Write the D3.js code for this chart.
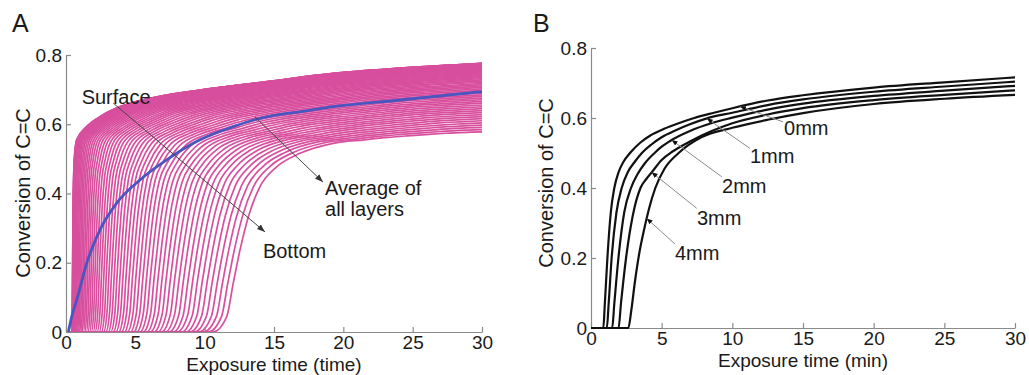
<!DOCTYPE html>
<html>
<head>
<meta charset="utf-8">
<script src="https://cdn.jsdelivr.net/npm/d3@7"></script>
<style>
  body { margin: 0; background: #fff; }
  svg text { font-family: "Liberation Sans", Arial, sans-serif; fill: #1a1a1a; }
  .axis path, .axis line { stroke: #8a8a8a; stroke-width: 1.2; }
</style>
</head>
<body>
<svg id="chart" width="1029" height="375"></svg>
<script>
const xTicks = [0, 5, 10, 15, 20, 25, 30];
const yTicks = [0, 0.2, 0.4, 0.6, 0.8];
const yTickLabels = ["0", "0.2", "0.4", "0.6", "0.8"];

// ---- panel A ----
// top (surface) and bottom layer, read point for point at matching stages of the curve
const surfaceCurve = [[0,0],[0.41,0],[0.45,0.06],[0.47,0.16],[0.49,0.26],[0.51,0.36],[0.55,0.45],[0.6,0.5],
  [0.77,0.555],[1.49,0.593],[2.45,0.622],[3.9,0.651],[6.06,0.675],[9.66,0.699],[14.47,0.723],[19.27,0.747],
  [24.08,0.762],[30,0.776]];
const bottomCurve = [[0,0],[10.6,0],[11.59,0.044],[12.06,0.141],[12.55,0.237],[13.15,0.333],[13.99,0.42],
  [15.19,0.477],[16.87,0.516],[19.27,0.545],[21.5,0.555],[23.2,0.562],[24.8,0.567],[26.2,0.571],[27.4,0.574],
  [28.4,0.576],[29.2,0.577],[30,0.578]];
// time each layer leaves zero (read along the x axis)
const layerOnsets = [0.41,0.413,0.422,0.436,0.457,0.483,0.515,0.553,0.597,0.647,0.703,0.764,0.832,0.905,
  0.984,1.069,1.159,1.256,1.358,1.467,1.581,1.701,1.827,1.959,2.096,2.24,2.389,2.544,2.705,2.872,3.045,
  3.223,3.408,3.598,3.794,3.996,4.204,4.418,4.637,4.862,5.094,5.331,5.574,5.823,6.077,6.338,6.604,6.876,
  7.155,7.438,7.728,8.024,8.325,8.633,8.946,9.265,9.59,9.921,10.257,10.6];
const averageCurve = [[0.17,0],[0.45,0.05],[0.77,0.092],[1.49,0.198],[2.45,0.295],[3.65,0.372],
  [5.33,0.439],[7.26,0.497],[9.66,0.555],[12.06,0.593],[13.6,0.613],[14.8,0.624],[16.87,0.636],
  [19.27,0.651],[24.08,0.67],[30,0.694]];
const notesA = [
  { text: ["Surface"], at: [1.13, 0.658], from: [3.41, 0.661], to: [14.35, 0.289] },
  { text: ["Bottom"], at: [14.2, 0.214] },
  { text: ["Average of", "all layers"], at: [18.68, 0.396], from: [13.63, 0.621], to: [18.53, 0.433] }
];

// ---- panel B ----
const depthLabels = ["0mm", "1mm", "2mm", "3mm", "4mm"];
const depthCurves = [
  [[0,0],[0.87,0],[0.98,0.07],[1.16,0.2],[1.4,0.33],[1.65,0.4],[1.95,0.445],[2.3,0.475],[2.76,0.5],[3.5,0.53],
   [4.2,0.55],[5,0.566],[6,0.582],[7.3,0.6],[8.7,0.615],[10,0.628],[12.5,0.65],[15,0.665],[20,0.687],[25,0.702],[30,0.716]],
  [[0,0],[1.12,0],[1.25,0.07],[1.46,0.2],[1.8,0.33],[2.17,0.4],[2.6,0.445],[3.1,0.475],[3.6,0.5],[4.3,0.525],
   [5,0.545],[6,0.565],[7,0.582],[8.2,0.599],[10,0.615],[12.5,0.637],[15,0.653],[20,0.675],[25,0.69],[30,0.704]],
  [[0,0],[1.5,0],[1.65,0.07],[1.94,0.2],[2.35,0.33],[2.83,0.4],[3.3,0.44],[3.8,0.47],[4.5,0.5],[5,0.518],
   [5.7,0.537],[7,0.563],[8.5,0.585],[10,0.601],[12.5,0.624],[15,0.641],[20,0.663],[25,0.678],[30,0.692]],
  [[0,0],[1.95,0],[2.12,0.07],[2.48,0.2],[2.95,0.32],[3.5,0.4],[3.9,0.425],[4.3,0.445],[5,0.48],[5.8,0.505],
   [7,0.533],[8.5,0.562],[10,0.585],[12.5,0.61],[15,0.628],[20,0.651],[25,0.666],[30,0.679]],
  [[0,0],[2.64,0],[2.85,0.05],[3.1,0.13],[3.4,0.21],[3.75,0.28],[4.1,0.34],[4.55,0.4],[5.2,0.455],[6.2,0.5],
   [7.8,0.545],[10,0.572],[12.5,0.595],[15,0.614],[20,0.64],[25,0.655],[30,0.666]]
];
// arrow tip on the curve, arrow tail, label position
const depthTips = [[10.54,0.633],[8.19,0.599],[5.71,0.537],[4.29,0.445],[3.94,0.313]];
const depthTails = [[13.59,0.589],[11.25,0.513],[9.25,0.432],[7.48,0.342],[5.94,0.24]];
const depthText = [[13.66,0.551],[11.25,0.472],[9.27,0.386],[7.5,0.294],[5.94,0.194]];

const svg = d3.select("#chart");

const defs = svg.append("defs");
defs.append("marker")
  .attr("id", "headA").attr("viewBox", "-8 -4 9 8")
  .attr("markerWidth", 9).attr("markerHeight", 8).attr("markerUnits", "userSpaceOnUse")
  .attr("refX", 0).attr("refY", 0).attr("orient", "auto")
  .append("path").attr("d", "M-8,-3L0,0L-8,3Z").attr("fill", "#333");
defs.append("marker")
  .attr("id", "headB").attr("viewBox", "-6 -3 7 6")
  .attr("markerWidth", 7).attr("markerHeight", 6).attr("markerUnits", "userSpaceOnUse")
  .attr("refX", 0).attr("refY", 0).attr("orient", "auto")
  .append("path").attr("d", "M-6,-2.5L0,0L-6,2.5Z").attr("fill", "#111");

let drawAxes = (g, x, y, xLabel, yLabelPos) => {
  g.append("g")
    .attr("class", "axis")
    .attr("transform", "translate(0," + y.range()[0] + ")")
    .call(d3.axisBottom(x).tickValues(xTicks).tickFormat(d3.format("d"))
      .tickSizeInner(-5).tickSizeOuter(0).tickPadding(4));
  g.append("g")
    .attr("class", "axis")
    .attr("transform", "translate(" + x.range()[0] + ",0)")
    .call(d3.axisLeft(y).tickValues(yTicks).tickFormat((d, i) => yTickLabels[i])
      .tickSizeInner(-5).tickSizeOuter(0).tickPadding(4));
  g.selectAll(".axis text")
    .style("font-size", "19px")
    .style("font-family", "Liberation Sans, Arial, sans-serif")
    .attr("fill", "#1a1a1a");
  g.append("text")
    .attr("x", (x.range()[0] + x.range()[1]) / 2)
    .attr("y", Math.min(y.range()[0] + 39, 370.8))
    .attr("text-anchor", "middle")
    .style("font-size", "19px")
    .text(xLabel);
  g.append("text")
    .attr("transform", "translate(" + yLabelPos[0] + "," + yLabelPos[1] + ") rotate(-90)")
    .attr("text-anchor", "middle")
    .style("font-size", "20px")
    .text("Conversion of C=C");
};

// ---------- A ----------
const xA = d3.scaleLinear().domain([0, 30]).range([66, 482]);
const yA = d3.scaleLinear().domain([0, 0.8]).range([332, 55]);
const gA = svg.append("g");

defs.append("clipPath").attr("id", "clipA")
  .append("rect").attr("x", xA(0)).attr("y", yA(0.8))
  .attr("width", xA(30) - xA(0)).attr("height", yA(0) - yA(0.8) + 1);

const lineA = d3.line().x(d => xA(d[0])).y(d => yA(d[1])).curve(d3.curveMonotoneX);
const firstOnset = layerOnsets[0], lastOnset = layerOnsets[layerOnsets.length - 1];

// each layer sits between the read surface and bottom curves, placed by its onset time
let layerPoints = on => {
  const f = (on - firstOnset) / (lastOnset - firstOnset);
  return surfaceCurve.map((p, i) => [p[0] + (bottomCurve[i][0] - p[0]) * f, p[1] + (bottomCurve[i][1] - p[1]) * f]);
};

gA.append("g")
  .attr("clip-path", "url(#clipA)")
  .selectAll("path")
  .data(layerOnsets)
  .enter()
  .append("path")
  .attr("d", on => lineA(layerPoints(on)))
  .attr("fill", "none")
  .attr("stroke", "#d84f9e")
  .attr("stroke-width", 1.7);

gA.append("path")
  .attr("d", lineA(averageCurve))
  .attr("fill", "none")
  .attr("stroke", "#4a56c0")
  .attr("stroke-width", 2.8);

drawAxes(gA, xA, yA, "Exposure time (time)", [30, 193]);

notesA.forEach(n => {
  if (n.from) {
    gA.append("line")
      .attr("x1", xA(n.from[0])).attr("y1", yA(n.from[1]))
      .attr("x2", xA(n.to[0])).attr("y2", yA(n.to[1]))
      .attr("stroke", "#444").attr("stroke-width", 1)
      .attr("marker-end", "url(#headA)");
  }
  n.text.forEach((t, i) => {
    gA.append("text")
      .attr("x", xA(n.at[0]))
      .attr("y", yA(n.at[1]) + i * 21)
      .style("font-size", "20px")
      .text(t);
  });
});

svg.append("text").attr("x", 12).attr("y", 32).style("font-size", "25px").text("A");

// ---------- B ----------
const xB = d3.scaleLinear().domain([0, 30]).range([591, 1015]);
const yB = d3.scaleLinear().domain([0, 0.8]).range([328, 48]);
const gB = svg.append("g");
const lineB = d3.line().x(d => xB(d[0])).y(d => yB(d[1])).curve(d3.curveMonotoneX);

drawAxes(gB, xB, yB, "Exposure time (min)", [553, 183]);

gB.selectAll(".depth")
  .data(depthCurves)
  .enter()
  .append("path")
  .attr("class", "depth")
  .attr("d", d => lineB(d))
  .attr("fill", "none")
  .attr("stroke", "#111")
  .attr("stroke-width", 2.2);

depthLabels.forEach((lab, i) => {
  gB.append("line")
    .attr("x1", xB(depthTails[i][0])).attr("y1", yB(depthTails[i][1]))
    .attr("x2", xB(depthTips[i][0])).attr("y2", yB(depthTips[i][1]))
    .attr("stroke", "#8a8a8a").attr("stroke-width", 1)
    .attr("marker-end", "url(#headB)");
  gB.append("text")
    .attr("x", xB(depthText[i][0]))
    .attr("y", yB(depthText[i][1]))
    .style("font-size", "20px")
    .text(lab);
});

svg.append("text").attr("x", 533).attr("y", 32).style("font-size", "25px").text("B");
</script>
</body>
</html>
